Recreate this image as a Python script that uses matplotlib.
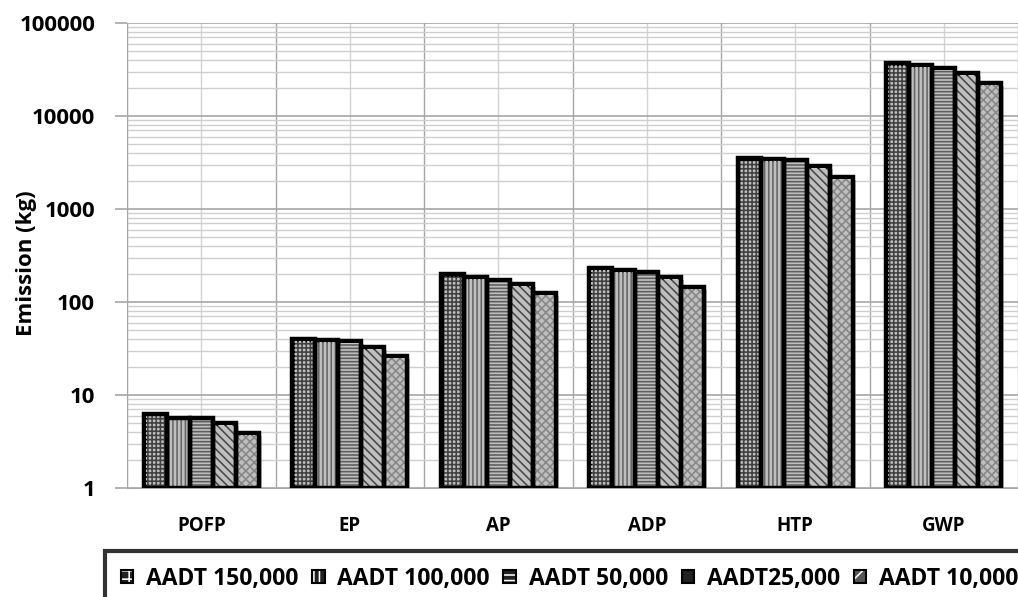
import matplotlib
matplotlib.use("Agg")
import matplotlib.pyplot as plt
import matplotlib.patheffects as pe
from matplotlib.patches import Patch
from matplotlib.legend_handler import HandlerTuple
from matplotlib.ticker import LogLocator, FixedLocator, NullFormatter
import numpy as np

categories = ["POFP", "EP", "AP", "ADP", "HTP", "GWP"]
series_names = ["AADT 150,000", "AADT 100,000", "AADT 50,000", "AADT25,000", "AADT 10,000"]
aadt_150k = [6.3, 40, 200, 232, 3530, 37000]
aadt_100k = [5.7, 39, 186, 221, 3450, 35300]
aadt_50k = [5.7, 38, 172, 210, 3370, 32800]
aadt_25k = [5.0, 32.8, 156, 186, 2900, 29000]
aadt_10k = [3.9, 26.3, 125, 145, 2210, 22600]
series = [aadt_150k, aadt_100k, aadt_50k, aadt_25k, aadt_10k]
ytick_vals = [1, 10, 100, 1000, 10000, 100000]
ytick_labels = ["1", "10", "100", "1000", "10000", "100000"]

hatches = ["++++", "||||", "-----", "\\\\\\\\", "xxxx"]
hatch_cols = ["#000000", "#4a4a4a", "#3a3a3a", "#111111", "#909090"]
legend_hatches = ["++", "|||", "---", "\\", "x"]
legend_faces = ["#222222", "#222222", "#222222", "#222222", "#555555"]

plt.rcParams['font.family'] = ['Open Sans', 'DejaVu Sans']
plt.rcParams['hatch.linewidth'] = 1.15

fig = plt.figure(figsize=(10.18, 5.97), dpi=100)
ax = fig.add_axes([0.1248, 0.1826, 0.8752, 0.7789])
ax.set_yscale('log')
ax.set_ylim(1, 100000)
ax.set_xlim(-0.5, 5.5)

x = np.arange(len(categories))
w = 0.155
for i, vals in enumerate(series):
    pos = x + (i - 2) * w
    ax.bar(pos, np.array(vals) - 1, bottom=1, width=w, color="white",
           edgecolor=hatch_cols[i], hatch=hatches[i], linewidth=0, zorder=3)
    ax.bar(pos, np.array(vals) - 1, bottom=1, width=w, fill=False,
           edgecolor="black", linewidth=3.2, zorder=4,
           path_effects=[pe.SimplePatchShadow(offset=(2, -2), shadow_rgbFace="0.5", alpha=0.5), pe.Normal()])

# gridlines
ax.yaxis.set_major_locator(FixedLocator(ytick_vals))
ax.set_yticklabels(ytick_labels)
ax.yaxis.set_minor_locator(LogLocator(base=10, subs=np.arange(2, 10)))
ax.yaxis.set_minor_formatter(NullFormatter())
ax.grid(True, which='major', axis='y', color='#a6a6a6', linewidth=1.2, zorder=0)
ax.grid(True, which='minor', axis='y', color='#cfcfcf', linewidth=1.0, zorder=0)
for b in np.arange(-0.5, 5.6, 1.0):
    ax.axvline(b, color='#a6a6a6', linewidth=1.0, zorder=0)
for c in x:
    ax.axvline(c, color='#d4d4d4', linewidth=1.0, zorder=0)

ax.set_xticks(x)
ax.set_xticklabels(categories, fontsize=13.5, fontweight='bold')
ax.tick_params(axis='x', length=0, pad=20)
ax.tick_params(axis='y', which='major', length=9, color='#a6a6a6', width=1.2,
               labelsize=16, pad=14)
ax.tick_params(axis='y', which='minor', length=0)
for lbl in ax.get_yticklabels():
    lbl.set_fontweight('bold')
fig.text(27 / 1018, 1 - 263 / 597, "Emission (kg)", rotation=90, ha='center', va='center',
         fontsize=16, fontweight='bold')

for s in ['top', 'right']:
    ax.spines[s].set_visible(False)
ax.spines['left'].set_color('#a6a6a6')
ax.spines['bottom'].set_color('#a6a6a6')

handles = [(Patch(facecolor=legend_faces[i], edgecolor='white', hatch=legend_hatches[i], linewidth=0),
            Patch(fill=False, edgecolor='black', linewidth=1.5))
           for i in range(5)]
leg = fig.legend(handles, series_names, loc='upper left', bbox_to_anchor=(105 / 1018, 1 - 551 / 597),
                 ncol=5, frameon=True, fancybox=False, handlelength=0.55, handleheight=0.55,
                 handletextpad=0.55, columnspacing=0.6, borderpad=0.68, borderaxespad=0,
                 handler_map={tuple: HandlerTuple(ndivide=1, pad=0)},
                 prop={'weight': 'bold', 'size': 16.5})
leg.get_frame().set_edgecolor('black')
leg.get_frame().set_linewidth(3)

fig.savefig("out.png", dpi=100)
